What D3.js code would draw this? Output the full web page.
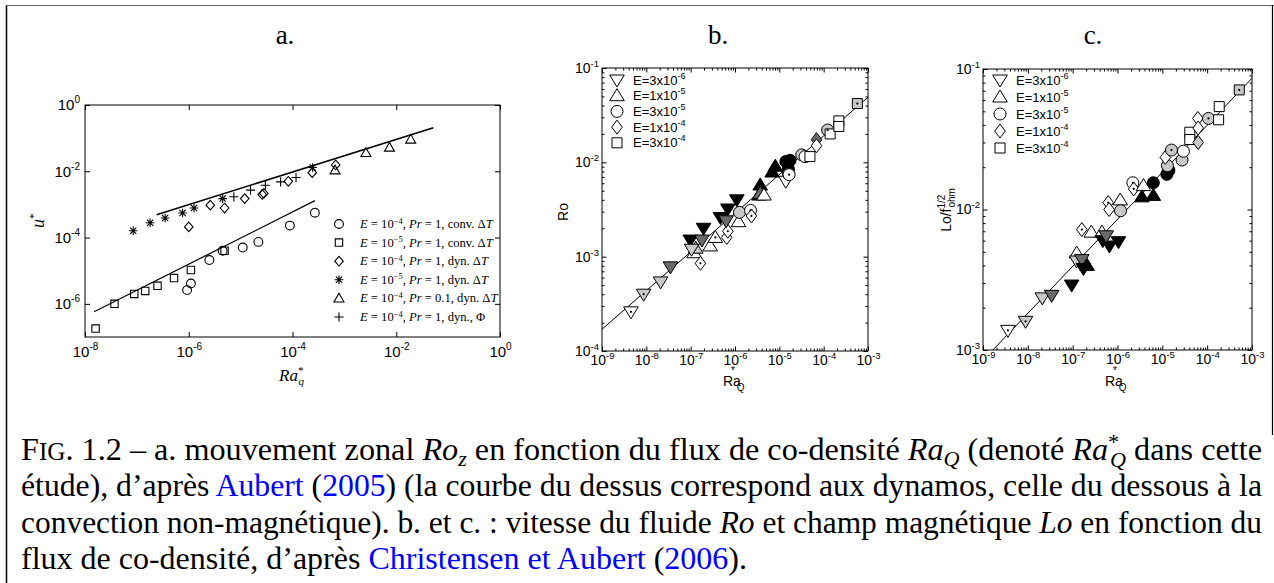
<!DOCTYPE html>
<html><head><meta charset="utf-8">
<script src="https://cdn.jsdelivr.net/npm/d3@7"></script>
<style>body{margin:0;background:#fff}svg{display:block}</style>
</head><body>
<svg id="c" width="1274" height="583"></svg>
<script>
// ---------- Panel a data (Aubert 2005) ----------
const aCircRa = [9.3e-7,1.1e-6,2.5e-6,4.5e-6,1.1e-5,2.2e-5,8.9e-5,2.7e-4];
const aCircU  = [2.6e-6,4.1e-6,2.1e-5,4.0e-5,5.0e-5,7.4e-5,2.3e-4,5.6e-4];
const aSqRa   = [1.6e-8,3.7e-8,8.9e-8,1.45e-7,2.5e-7,5.2e-7,1.1e-6,4.9e-6];
const aSqU    = [1.8e-7,1.0e-6,2.0e-6,2.45e-6,3.5e-6,6.0e-6,1.05e-5,4.0e-5];
const aDiaRa  = [1.0e-6,2.6e-6,4.9e-6,1.2e-5,2.6e-5,2.8e-5,8.3e-5,2.4e-4,6.8e-4];
const aDiaU   = [2.1e-4,9.5e-4,7.8e-4,1.5e-3,2.0e-3,2.15e-3,5.0e-3,9.1e-3,1.55e-2];
const aStarRa = [8.5e-8,1.8e-7,3.5e-7,7.6e-7,1.26e-6,4.5e-6,2.45e-4];
const aStarU  = [1.6e-4,2.8e-4,3.9e-4,5.5e-4,7.8e-4,1.5e-3,1.3e-2];
const aTriRa  = [6.6e-4,2.6e-3,7.4e-3,1.9e-2];
const aTriU   = [1.07e-2,3.6e-2,5.2e-2,9.1e-2];
const aPlusRa = [7.4e-6,1.55e-5,3.0e-5,5.9e-5,1.17e-4];
const aPlusU  = [1.7e-3,2.7e-3,3.8e-3,4.8e-3,6.5e-3];
const aFitDynRa = [2.4e-7,5.2e-2],  aFitDynU = [4.9e-4,0.206];
const aFitConvRa = [1.5e-8,2.7e-4], aFitConvU = [5.75e-7,1.3e-3];
const aXTicks = [1e-8,1e-6,1e-4,1e-2,1];
const aYTicks = [1e-6,1e-4,1e-2,1];
const aLegSym = ["o","s","d","*","^","+"];
const aLegE   = ["−4","−5","−4","−5","−4","−4"];
const aLegPr  = ["1","1","1","1","0.1","1"];
const aLegKind= ["conv. ΔT","conv. ΔT","dyn. ΔT","dyn. ΔT","dyn. ΔT","dyn., Φ"];

// ---------- Panel b data (Christensen & Aubert 2006) ----------
const bRa = [4.5e-9,8.7e-9,2.1e-8,3.5e-8,9.8e-8,1.8e-7,1.95e-7,1.2e-7,1.3e-7,1.66e-7,2.75e-7,3.6e-7,1.05e-7,6.5e-7,6.9e-7,4.7e-7,6.9e-7,1.1e-6,6.3e-7,1.2e-6,1.26e-6,2.24e-6,2.35e-6,3.5e-6,3.7e-6,3.7e-6,4.5e-6,6.9e-6,8.1e-6,1.4e-5,1.4e-5,1.75e-5,1.6e-5,1.6e-5,1.66e-5,3.2e-5,3.8e-5,4.9e-5,6.9e-5,6.9e-5,1.23e-4,1.4e-4,2.2e-4,2.2e-4,5.75e-4];
const bRo = [2.6e-4,4.0e-4,5.4e-4,7.8e-4,1.5e-3,1.5e-3,2.0e-3,1.1e-3,1.23e-3,8.5e-4,1.3e-3,1.6e-3,1.2e-3,1.6e-3,1.86e-3,2.6e-3,3.2e-3,4.0e-3,2.4e-3,2.35e-3,2.95e-3,3.1e-3,2.7e-3,4.5e-3,5.75e-3,4.7e-3,4.5e-3,7.9e-3,9.1e-3,6.3e-3,1.02e-2,1.05e-2,8.5e-3,7.6e-3,7.4e-3,1.2e-2,1.15e-2,1.15e-2,1.74e-2,1.5e-2,2.2e-2,2.0e-2,2.75e-2,2.4e-2,4.2e-2];
const bShape = ["v","v","v","v","v","v","v","^","^","d","^","^","v","d","d","v","v","v","v","^","o","o","d","^","^","^","^","^","^","v","o","o","o","o","o","o","o","s","d","d","o","s","s","s","s"];
const bShade = ["w","l","l","d","k","d","k","w","l","w","w","w","l","w","w","k","k","k","d","w","l","w","w","k","k","d","w","k","k","w","k","k","k","d","w","l","w","w","d","w","l","w","w","w","l"];
const bDot   = [1,1,0,0,0,0,0,0,0,1,0,1,0,0,1,0,0,0,0,0,0,1,1,0,0,0,0,0,0,0,0,0,0,0,1,0,0,0,0,0,1,0,0,0,1];
const bFitRa = [1e-9,1e-3], bFitRo = [1.7e-4,4.9e-2];
const bXTicks = [1e-9,1e-8,1e-7,1e-6,1e-5,1e-4,1e-3];
const bYTicks = [1e-4,1e-3,1e-2,1e-1];

// ---------- Panel c data ----------
const cRa = [3.6e-9,8.9e-9,2.1e-8,3.4e-8,9.5e-8,1.23e-7,1.23e-7,1.6e-7,1.74e-7,2.1e-7,1.6e-7,2.6e-7,4.5e-7,4.7e-7,6.6e-7,1.05e-6,5.6e-7,6.2e-7,6.5e-7,1.15e-6,1.17e-6,2.2e-6,2.3e-6,3.8e-6,3.5e-6,6.3e-6,6.3e-6,1.26e-5,1.4e-5,1.3e-5,1.17e-5,1.6e-5,2.75e-5,2.95e-5,4.1e-5,4.1e-5,6.2e-5,6.3e-5,6.3e-5,1.07e-4,1.8e-4,1.86e-4,5.2e-4];
const cLo = [1.38e-3,1.6e-3,2.35e-3,2.45e-3,2.9e-3,4.9e-3,4.3e-3,4.4e-3,3.8e-3,4.0e-3,7.2e-3,6.9e-3,6.9e-3,6.0e-3,5.5e-3,5.9e-3,6.5e-3,1.12e-2,1.0e-2,1.17e-2,9.8e-3,1.55e-2,1.4e-2,1.48e-2,1.23e-2,1.26e-2,1.55e-2,1.78e-2,1.9e-2,2.05e-2,2.35e-2,2.65e-2,2.25e-2,2.6e-2,3.55e-2,3.15e-2,4.45e-2,3.8e-2,3.0e-2,4.45e-2,4.35e-2,5.4e-2,7.1e-2];
const cShape = ["v","v","v","v","v","^","v","v","v","^","d","^","^","v","v","v","v","d","d","^","o","o","d","^","^","^","o","o","o","o","d","o","o","o","s","s","d","d","d","o","s","s","s"];
const cShade = ["w","l","l","d","k","w","l","d","k","k","w","w","w","k","k","k","d","w","w","w","l","w","w","w","k","k","k","k","k","l","w","l","l","w","w","w","w","w","l","l","w","w","l"];
const cDot   = [1,1,0,0,0,0,0,0,0,0,1,0,0,0,0,0,0,1,0,0,0,1,1,0,0,0,0,0,0,0,0,1,0,0,0,0,0,0,0,1,0,0,1];
const cFitRa = [1.66e-9,1e-3], cFitLo = [1e-3,8.6e-2];
const cXTicks = [1e-9,1e-8,1e-7,1e-6,1e-5,1e-4,1e-3];
const cYTicks = [1e-3,1e-2,1e-1];

const legShapes = ["v","^","o","d","s"];
const legMant = ["3","1","3","1","3"];
const legExp  = ["-6","-5","-5","-4","-4"];

// ---------- Setup ----------
const SANS = "'Liberation Sans', Arial, Helvetica, sans-serif";
const SERIF = "'Liberation Serif', 'Times New Roman', serif";
const shadeCol = {w:"#ffffff", l:"#c8c8c8", d:"#6a6a6a", k:"#000000"};
const svg = d3.select("#c");
svg.append("rect").attr("width",1274).attr("height",583).attr("fill","#fff");

// outer frame
svg.append("line").attr("x1",6.5).attr("x2",6.5).attr("y1",5).attr("y2",583).attr("stroke","#000").attr("stroke-width",1.5);
svg.append("line").attr("x1",6).attr("x2",1274).attr("y1",5.5).attr("y2",5.5).attr("stroke","#666").attr("stroke-width",1.2);
svg.append("line").attr("x1",1272.5).attr("x2",1272.5).attr("y1",5).attr("y2",435).attr("stroke","#000").attr("stroke-width",1.2);

// generic helpers
function rich(g, x, y, segs, base) {
  const t = g.append("text").attr("x",x).attr("y",y);
  Object.entries(base||{}).forEach(([k,v])=>t.attr(k,v));
  let cur = 0;
  segs.forEach(s => {
    const off = s.sh || 0;
    const ts = t.append("tspan").text(s.t);
    if (off - cur !== 0) ts.attr("dy", off - cur);
    cur = off;
    if (s.it) ts.attr("font-style","italic");
    if (s.fs) ts.attr("font-size", s.fs);
    if (s.fill) ts.attr("fill", s.fill);
    if (s.dx) ts.attr("dx", s.dx);
  });
  return t;
}
function shapePath(type, S) {
  const r=S.r, h=S.h, dw=S.dw, dh=S.dh, ta=S.ta, tb=S.tb, tc=S.tc;
  switch(type) {
    case "o": return `M${r},0A${r},${r} 0 1,1 ${-r},0A${r},${r} 0 1,1 ${r},0Z`;
    case "s": return `M${-h},${-h}H${h}V${h}H${-h}Z`;
    case "d": return `M0,${-dh}L${dw},0L0,${dh}L${-dw},0Z`;
    case "^": return `M0,${-ta}L${tb},${tc}L${-tb},${tc}Z`;
    case "v": return `M0,${ta}L${tb},${-tc}L${-tb},${-tc}Z`;
    case "*": { const k=S.st*0.72, q=S.st; return `M${-q},0H${q}M0,${-q}V${q}M${-k},${-k}L${k},${k}M${-k},${k}L${k},${-k}`; }
    case "+": return `M${-S.pl},0H${S.pl}M0,${-S.pl}V${S.pl}`;
  }
}
function minorTicks(domain) {
  const out=[]; const lo=Math.round(Math.log10(domain[0])), hi=Math.round(Math.log10(domain[1]));
  for (let e=lo; e<hi; e++) for (let m=2;m<=9;m++) out.push(m*Math.pow(10,e));
  return out;
}
function supLabels(axisG, fsMain, fsSup, shift) {
  axisG.selectAll(".tick text").each(function(d){
    const e = Math.round(Math.log10(d));
    const t = d3.select(this); t.text(null);
    t.append("tspan").text("10");
    t.append("tspan").text(e).attr("dy", -shift).attr("font-size", fsSup);
  });
  axisG.attr("font-size", fsMain).attr("font-family", SANS);
}
function frameAxes(g, x, y, xt, yt, opt) {
  const [x0,x1] = x.range(), [y0,y1] = y.range();
  const L = opt.major;
  const gb = g.append("g").attr("transform",`translate(0,${y0})`)
    .call(d3.axisBottom(x).tickValues(xt).tickSize(-L).tickPadding(opt.xpad).tickFormat(d=>d));
  const gl = g.append("g").attr("transform",`translate(${x0},0)`)
    .call(d3.axisLeft(y).tickValues(yt).tickSize(-L).tickPadding(opt.ypad).tickFormat(d=>d));
  const gt = g.append("g").attr("transform",`translate(0,${y1})`)
    .call(d3.axisTop(x).tickValues(xt).tickSize(-L).tickFormat(""));
  const gr = g.append("g").attr("transform",`translate(${x1},0)`)
    .call(d3.axisRight(y).tickValues(yt).tickSize(-L).tickFormat(""));
  [gb,gl,gt,gr].forEach(a=>{a.select(".domain").remove(); a.selectAll("line").attr("stroke","#000");});
  supLabels(gb, opt.fs, opt.fss, opt.sup);
  supLabels(gl, opt.fs, opt.fss, opt.sup);
  gb.selectAll("text").attr("fill","#000");
  gl.selectAll("text").attr("fill","#000");
  if (opt.minor) {
    const mx = minorTicks(x.domain()), my = minorTicks(y.domain());
    const m = opt.minor;
    [[d3.axisBottom(x).tickValues(mx),`translate(0,${y0})`],[d3.axisTop(x).tickValues(mx),`translate(0,${y1})`],
     [d3.axisLeft(y).tickValues(my),`translate(${x0},0)`],[d3.axisRight(y).tickValues(my),`translate(${x1},0)`]]
     .forEach(([ax,tr])=>{ const a=g.append("g").attr("transform",tr).call(ax.tickSize(-m).tickFormat(""));
       a.select(".domain").remove(); a.selectAll("line").attr("stroke","#000"); });
  }
  g.append("rect").attr("x",x0).attr("y",y1).attr("width",x1-x0).attr("height",y0-y1)
    .attr("fill","none").attr("stroke","#000").attr("stroke-width",1);
}

// ---------- Titles ----------
[["a.",285],["b.",718],["c.",1093]].forEach(([t,x])=>
  svg.append("text").attr("x",x).attr("y",44).attr("text-anchor","middle")
    .attr("font-family",SERIF).attr("font-size",27).text(t));

// ---------- Panel a ----------
{
  const g = svg.append("g");
  const x = d3.scaleLog().domain([1e-8,1]).range([85,500]);
  const y = d3.scaleLog().domain([1e-7,1]).range([337,105]);
  const line = d3.line().x(d=>x(d[0])).y(d=>y(d[1]));
  g.append("path").attr("d", line(d3.zip(aFitDynRa,aFitDynU))).attr("stroke","#000").attr("stroke-width",1.6).attr("fill","none");
  g.append("path").attr("d", line(d3.zip(aFitConvRa,aFitConvU))).attr("stroke","#000").attr("stroke-width",1.2).attr("fill","none");
  const S = {r:4.4,h:3.7,dw:4.3,dh:4.8,ta:5.2,tb:5,tc:3.6,st:4.3,pl:4.6};
  const series = [[aCircRa,aCircU,"o"],[aSqRa,aSqU,"s"],[aDiaRa,aDiaU,"d"],[aStarRa,aStarU,"*"],[aTriRa,aTriU,"^"],[aPlusRa,aPlusU,"+"]];
  series.forEach(([xs,ys,sh])=>{
    g.selectAll(null).data(d3.zip(xs,ys)).join("path")
      .attr("transform",d=>`translate(${x(d[0])},${y(d[1])})`)
      .attr("d",shapePath(sh,S)).attr("fill","none").attr("stroke","#000").attr("stroke-width",1.1);
  });
  frameAxes(g, x, y, aXTicks, aYTicks, {major:5, xpad:9, ypad:5, fs:15, fss:10, sup:7});
  // legend
  aLegSym.forEach((sh,i)=>{
    const yy = 224 + i*18.6;
    g.append("path").attr("transform",`translate(339,${yy})`).attr("d",shapePath(sh,S))
      .attr("fill","none").attr("stroke","#000").attr("stroke-width",1.1);
    const kind = aLegKind[i];
    const segs = [{t:"E",it:1},{t:" = 10"},{t:aLegE[i],sh:-4.5,fs:8.5},{t:", "},{t:"Pr",it:1},{t:" = "+aLegPr[i]+", "}];
    if (kind.endsWith("ΔT")) { segs.push({t:kind.slice(0,-1)}); segs.push({t:"T",it:1}); }
    else segs.push({t:kind});
    rich(g, 360, yy+4, segs, {"font-family":SERIF,"font-size":12.6,"fill":"#000"});
  });
  // axis labels
  rich(g, 279, 381, [{t:"Ra",it:1},{t:"*",sh:-7,fs:11},{t:"q",it:1,sh:4,fs:11,dx:-5}], {"font-family":SERIF,"font-size":17});
  rich(g, 0, 0, [{t:"u",it:1},{t:"*",sh:-7,fs:11}], {"font-family":SERIF,"font-size":18,"transform":"translate(44,228) rotate(-90)"});
}

// ---------- Panels b & c ----------
function panelBC(xr, yr, xd, yd, ra, val, shapes, shades, dots, fitX, fitY, xt, yt, legX, legY0, legDy) {
  const g = svg.append("g");
  const x = d3.scaleLog().domain(xd).range(xr);
  const y = d3.scaleLog().domain(yd).range(yr);
  g.append("path").attr("d", d3.line().x(d=>x(d[0])).y(d=>y(d[1]))(d3.zip(fitX,fitY)))
    .attr("stroke","#000").attr("stroke-width",1).attr("fill","none");
  const S = {r:6,h:5,dw:5.3,dh:7,ta:7,tb:7.3,tc:5};
  const pts = d3.range(ra.length).map(i=>({x:ra[i],y:val[i],s:shapes[i],f:shades[i],dot:dots[i]}));
  g.selectAll(null).data(pts).join("path")
    .attr("transform",d=>`translate(${x(d.x)},${y(d.y)})`)
    .attr("d",d=>shapePath(d.s,S)).attr("fill",d=>shadeCol[d.f]).attr("stroke","#000").attr("stroke-width",1);
  g.selectAll(null).data(pts.filter(d=>d.dot)).join("circle")
    .attr("cx",d=>x(d.x)).attr("cy",d=>y(d.y)).attr("r",1.1).attr("fill","#000");
  frameAxes(g, x, y, xt, yt, {major:4.5, minor:2.5, xpad:4, ypad:3, fs:14, fss:9.5, sup:6});
  legShapes.forEach((sh,i)=>{
    const yy = legY0 + i*legDy;
    g.append("path").attr("transform",`translate(${legX},${yy})`).attr("d",shapePath(sh,S))
      .attr("fill","#fff").attr("stroke","#000").attr("stroke-width",1);
    rich(g, legX+16, yy+4.5, [{t:"E="+legMant[i]+"x10"},{t:legExp[i],sh:-6,fs:9}], {"font-family":SANS,"font-size":13});
  });
  return {g,x,y};
}
const B = panelBC([602,868],[351,68],[1e-9,1e-3],[1e-4,1e-1], bRa,bRo,bShape,bShade,bDot,bFitRa,bFitRo,bXTicks,bYTicks, 617, 80, 15.7);
rich(B.g, 723, 386, [{t:"Ra"},{t:"*",sh:-12,fs:10,dx:-10},{t:"Q",sh:5,fs:10,dx:2}], {"font-family":SANS,"font-size":14});
rich(B.g, 0, 0, [{t:"Ro"}], {"font-family":SANS,"font-size":14,"text-anchor":"middle","transform":"translate(568,212) rotate(-90)"});

const C = panelBC([983,1252],[350,69],[1e-9,1e-3],[1e-3,1e-1], cRa,cLo,cShape,cShade,cDot,cFitRa,cFitLo,cXTicks,cYTicks, 1000, 80, 17);
rich(C.g, 1105, 386, [{t:"Ra"},{t:"*",sh:-12,fs:10,dx:-10},{t:"Q",sh:5,fs:10,dx:2}], {"font-family":SANS,"font-size":14});
rich(C.g, 0, 0, [{t:"Lo/f"},{t:"1/2",sh:-6,fs:10},{t:"ohm",sh:4,fs:10,dx:-13}], {"font-family":SANS,"font-size":14,"text-anchor":"middle","transform":"translate(951,210) rotate(-90)"});

// ---------- Caption ----------
const BLUE = "#0000ff";
const capLines = [
  [{t:"F"},{t:"IG",fs:25},{t:". 1.2 –  a. mouvement zonal "},{t:"Ro",it:1},{t:"z",it:1,sh:6,fs:22},{t:" en fonction du flux de co-densité "},{t:"Ra",it:1},{t:"Q",it:1,sh:6,fs:22},{t:" (denoté "},{t:"Ra",it:1},{t:"*",sh:-11,fs:22},{t:"Q",it:1,sh:7,fs:22,dx:-9},{t:" dans cette"}],
  [{t:"étude), d’après "},{t:"Aubert",fill:BLUE},{t:" ("},{t:"2005",fill:BLUE},{t:") (la courbe du dessus correspond aux dynamos, celle du dessous à la"}],
  [{t:"convection non-magnétique). b. et c. : vitesse du fluide "},{t:"Ro",it:1},{t:" et champ magnétique "},{t:"Lo",it:1},{t:" en fonction du"}],
  [{t:"flux de co-densité, d’après "},{t:"Christensen et Aubert",fill:BLUE},{t:" ("},{t:"2006",fill:BLUE},{t:")."}]
];
capLines.forEach((segs,i)=>{
  const t = rich(svg, 21, 460 + i*36.3, segs, {"font-family":SERIF,"font-size":32,"fill":"#000"});
  if (i < 3) {
    const target = 1241;
    const w = t.node().getComputedTextLength();
    const n = (t.node().textContent.match(/ /g)||[]).length;
    if (w < target) t.attr("word-spacing", (target-w)/n);
    else t.attr("textLength", target).attr("lengthAdjust","spacingAndGlyphs");
  }
});
</script>
</body></html>
